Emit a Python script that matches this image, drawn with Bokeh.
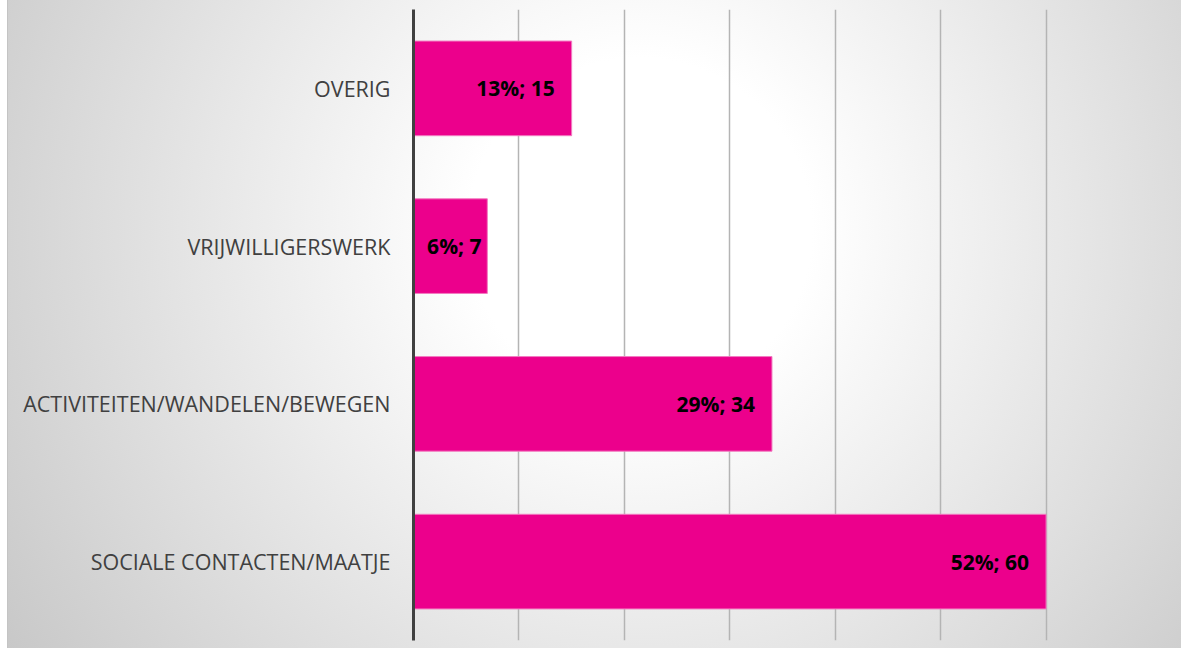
from bokeh.plotting import figure
from bokeh.models import ColumnDataSource, FixedTicker
from bokeh.core.properties import value
from bokeh.embed import file_html
from bokeh.resources import INLINE

categories = ["SOCIALE CONTACTEN/MAATJE", "ACTIVITEITEN/WANDELEN/BEWEGEN", "VRIJWILLIGERSWERK", "OVERIG"]
counts = [60, 34, 7, 15]
percents = [52, 29, 6, 13]
x_ticks = [0, 10, 20, 30, 40, 50, 60, 70]

X_MAX = 70
FRAME_LEFT, FRAME_RIGHT = 413, 1151
labels = [f"{p}%; {c}" for p, c in zip(percents, counts)]
# inside-end labels, pulled back so that they do not run past the bar's base
px_per_unit = (FRAME_RIGHT - FRAME_LEFT) / X_MAX
offsets = []
for c, lab in zip(counts, labels):
    bar_px = c * px_per_unit
    text_w = 10.6 * len(lab)
    offsets.append(-min(17.0, max(2.0, bar_px - text_w - 15)))

src = ColumnDataSource(dict(cat=categories, n=counts, lab=labels, off=offsets))

p = figure(width=1181, height=648, y_range=categories, x_range=(0, X_MAX),
           output_backend="svg", toolbar_location=None,
           min_border_left=FRAME_LEFT, min_border_right=1181 - FRAME_RIGHT,
           min_border_top=9, min_border_bottom=8)

p.background_fill_alpha = 0
p.border_fill_alpha = 0
p.outline_line_color = None
p.styles = {"background": ("linear-gradient(to right, #ffffff 0px, #ffffff 7px, #c4c4c4 7px, #c4c4c4 8px, "
                           "rgba(255,255,255,0) 8px), "
                           "radial-gradient(circle 780px at 640px 230px, #ffffff 0%, #ffffff 22%, #c6c6c6 100%)")}

p.hbar(y="cat", right="n", height=0.6, source=src, fill_color="#EC008C",
       line_color="#F27BC0", line_width=1)
p.text(x="n", y="cat", text="lab", source=src, x_offset="off", text_align="right",
       text_baseline="middle", text_font=value("Open Sans"), text_font_style="bold",
       text_font_size="21px", text_color="#000000")

p.xaxis.visible = False
p.xgrid.ticker = FixedTicker(ticks=x_ticks)
p.xgrid.grid_line_color = "#b4b4b4"
p.xgrid.grid_line_width = 1.5
p.ygrid.grid_line_color = None

yax = p.yaxis[0]
yax.axis_line_color = "#404040"
yax.axis_line_width = 3
yax.major_tick_line_color = None
yax.minor_tick_line_color = None
yax.major_label_text_font = "Open Sans"
yax.major_label_text_font_size = "21.5px"
yax.major_label_text_color = "#404040"
yax.major_label_standoff = 17

open("out.html", "w").write(file_html(p, INLINE))
